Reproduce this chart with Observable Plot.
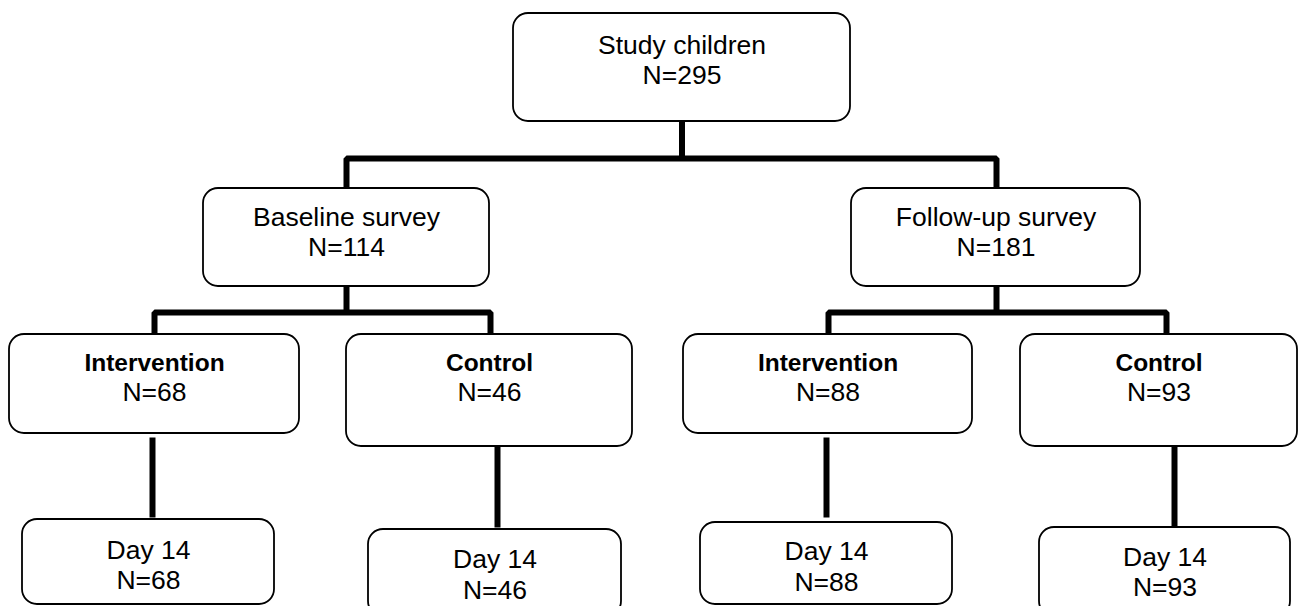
<!DOCTYPE html>
<html>
<head>
<meta charset="utf-8">
<script src="https://cdn.jsdelivr.net/npm/d3@7"></script>
<script src="https://cdn.jsdelivr.net/npm/@observablehq/plot@0.6"></script>
<style>
  html, body { margin: 0; padding: 0; background: #fff; overflow: hidden; }
  #chart svg { display: block; }
</style>
</head>
<body>
<div id="chart"></div>
<script>
// ---- Data ----
const labels = ["Study children", "Baseline survey", "Follow-up survey",
  "Intervention", "Control", "Intervention", "Control",
  "Day 14", "Day 14", "Day 14", "Day 14"];
const counts = [295, 114, 181, 68, 46, 88, 93, 68, 46, 88, 93];
const boldLabel = [false, false, false, true, true, true, true, false, false, false, false];

// ---- Layout (diagram geometry) ----
// [x1, x2, y1, y2, baseline of line 1, baseline of line 2]
const boxLayout = [
  [513, 850, 13, 121, 53, 83],
  [203, 489, 188, 286, 225, 255],
  [851, 1140, 188, 286, 225, 255],
  [9, 299, 334, 433, 370, 400],
  [346, 632, 334, 446, 370, 400],
  [683, 972, 334, 433, 370, 400],
  [1020, 1297, 334, 446, 370, 400],
  [22, 274, 519, 604, 558, 588],
  [368, 621, 529, 616, 567, 598],
  [700, 952, 522, 604, 559, 590],
  [1039, 1290, 527, 616, 565, 595]
];
// branch connectors: parent x, parent bottom, bar y, child xs, child top
const branchLayout = [
  [681.5, 121, 158, [346, 996], 188],
  [346, 286, 312, [154, 490], 334],
  [996, 286, 312, [828, 1166], 334]
];
// straight connectors: x, y from, y to
const stemLayout = [
  [152, 437, 517],
  [497, 446, 527],
  [826, 437, 517],
  [1174, 446, 526]
];

const nodes = labels.map((label, i) => ({
  label, n: "N=" + counts[i], bold: boldLabel[i],
  x1: boxLayout[i][0], x2: boxLayout[i][1], y1: boxLayout[i][2], y2: boxLayout[i][3],
  cx: (boxLayout[i][0] + boxLayout[i][1]) / 2, t1: boxLayout[i][4], t2: boxLayout[i][5]
}));

const segs = [];
branchLayout.forEach(([px, py, by, xs, cy], g) => {
  segs.push({g: "p" + g, x: px, y: py}, {g: "p" + g, x: px, y: by});
  segs.push({g: "b" + g, x: xs[0], y: cy}, {g: "b" + g, x: xs[0], y: by},
            {g: "b" + g, x: xs[1], y: by}, {g: "b" + g, x: xs[1], y: cy});
});
stemLayout.forEach(([x, a, b], i) => {
  segs.push({g: "s" + i, x, y: a}, {g: "s" + i, x, y: b});
});

const font = "Liberation Sans, Arial, Helvetica, sans-serif";

const chart = Plot.plot({
  width: 1299,
  height: 606,
  margin: 0,
  x: {domain: [0, 1299], range: [0, 1299], axis: null},
  y: {domain: [0, 606], range: [0, 606], axis: null},
  style: {fontFamily: font, background: "#fff", color: "#000"},
  marks: [
    Plot.line(segs, {x: "x", y: "y", z: "g", stroke: "#000", strokeWidth: 6,
      strokeLinejoin: "miter", strokeLinecap: "butt", curve: "linear"}),
    Plot.rect(nodes, {x1: "x1", x2: "x2", y1: "y1", y2: "y2", rx: 15,
      fill: "#fff", stroke: "#000", strokeWidth: 1.8}),
    Plot.text(nodes.filter(d => !d.bold), {x: "cx", y: "t1", text: "label",
      fontSize: 26.5, fontFamily: font, fill: "#000", lineAnchor: "bottom", textAnchor: "middle"}),
    Plot.text(nodes.filter(d => d.bold), {x: "cx", y: "t1", text: "label",
      fontSize: 24.5, fontWeight: "bold", fontFamily: font, fill: "#000", lineAnchor: "bottom", textAnchor: "middle"}),
    Plot.text(nodes, {x: "cx", y: "t2", text: "n",
      fontSize: 26.5, fontFamily: font, fill: "#000", lineAnchor: "bottom", textAnchor: "middle"})
  ]
});
document.getElementById("chart").appendChild(chart);
</script>
</body>
</html>
